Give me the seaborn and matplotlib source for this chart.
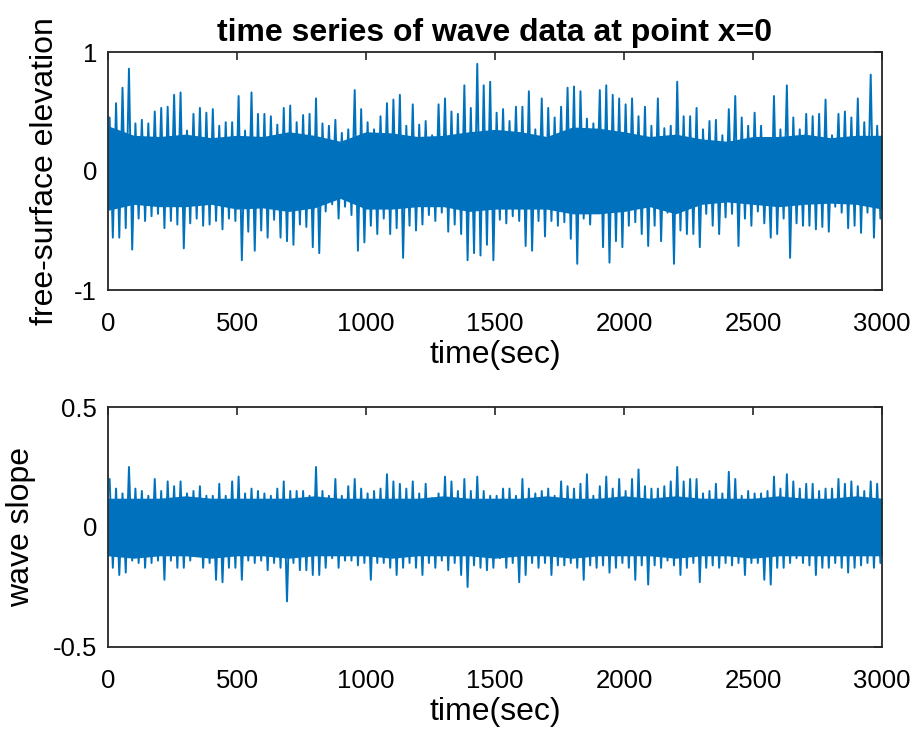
import numpy as np
import pandas as pd
import matplotlib
matplotlib.use("Agg")
import matplotlib.pyplot as plt
import seaborn as sns

# ---- data: per-25-second bin envelope peaks ----
bin_width = 25.0
elev_upper = [.45, .57, .70, .86, .40, .43, .40, .50, .53, .54,
              .64, .66, .34, .48, .53, .49, .52, .38, .41, .41,
              .63, .34, .66, .48, .48, .46, .39, .53, .55, .41,
              .47, .48, .61, .40, .38, .43, .32, .35, .68, .52,
              .41, .35, .46, .57, .60, .64, .38, .56, .39, .42,
              .30, .56, .61, .50, .48, .72, .53, .90, .72, .75,
              .49, .52, .42, .54, .54, .67, .35, .61, .53, .45,
              .54, .70, .71, .67, .44, .40, .68, .72, .64, .61,
              .56, .61, .46, .54, .38, .61, .36, .38, .75, .46,
              .46, .53, .35, .42, .43, .30, .52, .63, .45, .38,
              .49, .38, .22, .63, .35, .72, .45, .35, .48, .46,
              .48, .60, .30, .48, .50, .45, .61, .41, .81, .38]
elev_lower = [-.56, -.56, -.48, -.66, -.40, -.42, -.38, -.36, -.48, -.42,
              -.45, -.65, -.44, -.40, -.46, -.45, -.42, -.49, -.40, -.42,
              -.75, -.51, -.67, -.50, -.56, -.41, -.56, -.59, -.62, -.45,
              -.47, -.64, -.69, -.34, -.28, -.40, -.30, -.37, -.67, -.60,
              -.46, -.53, -.40, -.53, -.48, -.73, -.46, -.50, -.45, -.37,
              -.42, -.35, -.51, -.45, -.53, -.75, -.69, -.71, -.62, -.75,
              -.41, -.44, -.38, -.42, -.63, -.67, -.42, -.55, -.42, -.46,
              -.43, -.57, -.78, -.40, -.45, -.35, -.64, -.77, -.59, -.64,
              -.46, -.43, -.53, -.63, -.46, -.59, -.35, -.78, -.50, -.53,
              -.53, -.64, -.36, -.46, -.53, -.39, -.36, -.63, -.40, -.46,
              -.34, -.44, -.56, -.53, -.40, -.73, -.44, -.46, -.46, -.49,
              -.47, -.51, -.30, -.35, -.48, -.46, -.52, -.35, -.56, -.40]
slope_upper = [.20, .16, .14, .25, .16, .15, .13, .20, .15, .19,
               .17, .19, .14, .15, .17, .13, .13, .18, .13, .19,
               .21, .14, .16, .15, .14, .13, .16, .19, .15, .15,
               .15, .13, .25, .15, .13, .20, .13, .17, .20, .16,
               .14, .15, .16, .22, .19, .18, .16, .19, .14, .18,
               .12, .14, .21, .19, .15, .20, .15, .21, .15, .13,
               .13, .16, .16, .13, .20, .16, .14, .15, .16, .13,
               .19, .17, .16, .18, .22, .13, .17, .21, .16, .20,
               .15, .20, .24, .17, .16, .16, .17, .19, .25, .19,
               .20, .20, .14, .15, .18, .14, .23, .20, .13, .15,
               .14, .14, .15, .21, .16, .22, .19, .16, .18, .18,
               .15, .16, .16, .20, .18, .19, .17, .15, .19, .18]
slope_lower = [-.17, -.20, -.19, -.14, -.15, -.17, -.15, -.14, -.22, -.14,
               -.17, -.17, -.14, -.12, -.17, -.15, -.22, -.23, -.17, -.17,
               -.22, -.14, -.15, -.14, -.18, -.15, -.17, -.31, -.15, -.18,
               -.18, -.20, -.20, -.17, -.13, -.17, -.14, -.14, -.16, -.15,
               -.22, -.15, -.15, -.17, -.20, -.17, -.15, -.17, -.20, -.15,
               -.17, -.14, -.18, -.15, -.20, -.25, -.16, -.17, -.18, -.17,
               -.13, -.17, -.15, -.23, -.20, -.15, -.17, -.15, -.20, -.16,
               -.16, -.15, -.17, -.22, -.16, -.17, -.16, -.19, -.17, -.15,
               -.17, -.22, -.16, -.24, -.16, -.17, -.14, -.16, -.20, -.17,
               -.15, -.23, -.17, -.16, -.17, -.15, -.16, -.15, -.20, -.15,
               -.15, -.22, -.24, -.17, -.17, -.15, -.13, -.15, -.16, -.20,
               -.17, -.17, -.15, -.17, -.19, -.17, -.16, -.15, -.17, -.15]
# dense core band of the signal, read every 100 s
core_times = list(range(0, 3001, 100))
elev_core_up = [.38, .30, .29, .31, .28, .30, .29, .33, .30, .25,
                .33, .32, .29, .30, .33, .35, .33, .29, .37, .36,
                .33, .29, .31, .27, .25, .29, .29, .31, .28, .30, .30]
elev_core_lo = [-.33, -.28, -.30, -.30, -.28, -.32, -.31, -.34, -.31, -.23,
                -.32, -.32, -.30, -.30, -.34, -.32, -.32, -.32, -.36, -.36,
                -.34, -.30, -.36, -.28, -.26, -.28, -.30, -.28, -.27, -.28, -.32]
slope_core_up = [.12, .12, .12, .13, .12, .12, .12, .12, .13, .12,
                 .12, .12, .12, .13, .12, .12, .12, .13, .12, .12,
                 .13, .12, .13, .12, .12, .12, .13, .12, .12, .13, .12]
slope_core_lo = [-.12, -.13, -.12, -.12, -.13, -.12, -.12, -.13, -.12, -.12,
                 -.12, -.13, -.12, -.12, -.12, -.13, -.12, -.12, -.13, -.12,
                 -.12, -.12, -.13, -.12, -.12, -.13, -.12, -.12, -.12, -.12, -.12]

x_ticks = [0, 500, 1000, 1500, 2000, 2500, 3000]
elev_ticks = [-1, 0, 1]
slope_ticks = [-0.5, 0, 0.5]

COLOR = "#0072BD"
TXT = "#000000"

def zigzag(upper, lower):
    n = len(upper)
    t0 = np.arange(n) * bin_width
    t = np.empty(2 * n)
    y = np.empty(2 * n)
    t[0::2] = t0 + 0.25 * bin_width
    t[1::2] = t0 + 0.75 * bin_width
    y[0::2] = upper
    y[1::2] = lower
    return pd.DataFrame({"t": t, "y": y, "order": np.arange(2 * n)})

sns.set_style("white")
plt.rcParams["font.family"] = ["Liberation Sans", "DejaVu Sans"]
plt.rcParams["axes.unicode_minus"] = False

W, H = 919, 735
fig = plt.figure(figsize=(W / 100, H / 100), dpi=100)
ax1 = fig.add_axes([108 / W, 1 - 290 / H, 774 / W, 238 / H])
ax2 = fig.add_axes([108 / W, 1 - 647 / H, 774 / W, 240 / H])

panels = [
    (ax1, elev_upper, elev_lower, elev_core_up, elev_core_lo, elev_ticks, (-1, 1), "free-surface elevation", 10),
    (ax2, slope_upper, slope_lower, slope_core_up, slope_core_lo, slope_ticks, (-0.5, 0.5), "wave slope", 12),
]
for ax, up, lo, cu, cl, yt, ylim, ylab, ypad in panels:
    ax.fill_between(core_times, cl, cu, color=COLOR, linewidth=0, zorder=1)
    df = zigzag(up, lo)
    sns.lineplot(data=df, x="t", y="y", sort=False, estimator=None, ax=ax,
                 color=COLOR, linewidth=1.4, zorder=2)
    ax.set_xlim(0, 3000)
    ax.set_ylim(*ylim)
    ax.set_xticks(x_ticks)
    ax.set_yticks(yt)
    ax.set_yticklabels([f"{v:g}" for v in yt])
    ax.set_xlabel("time(sec)", fontsize=23, labelpad=3, color=TXT)
    ax.set_ylabel(ylab, fontsize=23, labelpad=ypad, color=TXT)
    ax.tick_params(axis="x", pad=16)
    ax.tick_params(axis="y", pad=8)
    ax.tick_params(axis="both", direction="in", length=6, width=1.2,
                   labelsize=18.5, top=True, right=True, color="#262626",
                   labelcolor=TXT)
    for s in ax.spines.values():
        s.set_visible(True)
        s.set_color("#262626")
        s.set_linewidth(1.3)

ax1.set_title("time series of wave data at point x=0", fontsize=23,
              fontweight="bold", pad=8, color=TXT)

fig.savefig("out.png", dpi=100)
